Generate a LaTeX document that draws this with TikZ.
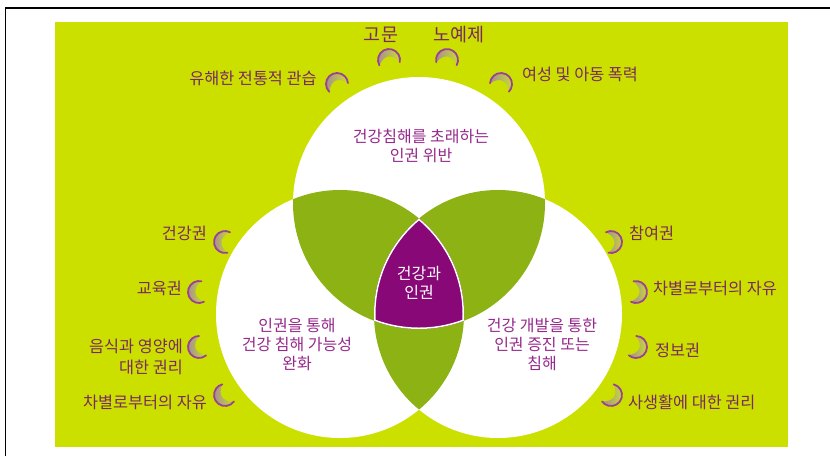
\documentclass[tikz,border=0pt]{standalone}
\usepackage{fontspec}
\setmainfont{Noto Sans CJK KR}
\definecolor{limebg}{RGB}{204,224,0}
\definecolor{lensgreen}{RGB}{140,178,20}
\definecolor{core}{RGB}{137,8,120}
\definecolor{lbl}{RGB}{122,42,95}
\definecolor{ctext}{RGB}{150,40,140}
\definecolor{crstroke}{RGB}{155,65,145}
\definecolor{crA}{RGB}{165,140,150}
\definecolor{crB}{RGB}{200,220,50}
\begin{document}
\begin{tikzpicture}[x=1pt,y=-1pt,
  lab/.style={text=lbl, font=\fontsize{16.3}{21}\selectfont, inner sep=0pt},
  biglab/.style={text=lbl, font=\fontsize{18.5}{22}\selectfont, inner sep=0pt},
  ctxt/.style={text=ctext, font=\fontsize{16}{19}\selectfont, inner sep=0pt, align=center},
  crescent/.pic={
    \shade[left color=crA, right color=crB] (70:11) arc[start angle=70,end angle=290,radius=11] .. controls (-6,-4) and (-6,4) .. cycle;
    \draw[crstroke, line width=1.8pt, line cap=round] (70:11) arc[start angle=70,end angle=290,radius=11];
  }]
\useasboundingbox (0,0) rectangle (830,456);
\fill[white] (0,0) rectangle (830,456);
% frame
\draw[black, line width=1.2pt] (5.5,456) -- (5.5,8) -- (830,8);
% background
\fill[limebg] (55,22) rectangle (788,447);
\def\Tc{(419,203) circle[radius=126]}
\def\Lc{(340,314) circle[radius=124]}
\def\Rc{(498,314) circle[radius=124]}
\fill[white] \Tc;
\fill[white] \Lc;
\fill[white] \Rc;
\begin{scope}
  \clip \Tc;
  \fill[lensgreen] \Lc;
  \fill[lensgreen] \Rc;
\end{scope}
\begin{scope}
  \clip \Lc;
  \fill[lensgreen] \Rc;
\end{scope}
\begin{scope}
  \clip \Tc; \clip \Lc;
  \fill[core] \Rc;
  \clip \Rc;
  \draw[white, line width=3pt] \Tc;
  \draw[white, line width=3pt] \Lc;
  \draw[white, line width=3pt] \Rc;
\end{scope}
% crescents
\pic[rotate=-81] at (389,60) {crescent};
\pic[rotate=-98] at (447,60) {crescent};
\pic[rotate=-65] at (337,84) {crescent};
\pic[rotate=-114] at (501,84) {crescent};
\pic[rotate=-7] at (225,242) {crescent};
\pic[rotate=7] at (199,292) {crescent};
\pic[rotate=20] at (199,347) {crescent};
\pic[rotate=34] at (225,395) {crescent};
\pic[rotate=-173] at (611,242) {crescent};
\pic[rotate=173] at (636,292) {crescent};
\pic[rotate=159] at (636,347) {crescent};
\pic[rotate=146] at (611,395) {crescent};
% labels
\node[biglab] (gomun) at (381,35) {고문};
\node[biglab] (noye) at (459,35) {노예제};
\node[lab] (gwanseup) at (253,78) {유해한 전통적 관습};
\node[lab] (pokryeok) at (580,74) {여성 및 아동 폭력};
\node[lab, anchor=east] (geongang) at (207,233) {건강권};
\node[lab, anchor=east] (gyoyuk) at (182,288) {교육권};
\node[lab, anchor=east, align=right] (eumsik) at (183,357) {음식과 영양에\\대한 권리};
\node[lab, anchor=east] (chabyeolL) at (207,402) {차별로부터의 자유};
\node[lab, anchor=west] (chamyeo) at (629,233) {참여권};
\node[lab, anchor=west] (chabyeolR) at (653,288) {차별로부터의 자유};
\node[lab, anchor=west] (jeongbo) at (655,350) {정보권};
\node[lab, anchor=west] (sasaeng) at (628,402) {사생활에 대한 권리};
% circle texts
\node[ctxt] (toptxt) at (421,146) {건강침해를 초래하는\\인권 위반};
\node[ctxt] (lefttxt) at (297,344) {인권을 통해\\건강 침해 가능성\\완화};
\node[ctxt] (righttxt) at (542,344) {건강 개발을 통한\\인권 증진 또는\\침해};
\node[ctxt, text=white] (core) at (419,283) {건강과\\인권};
\end{tikzpicture}
\end{document}
